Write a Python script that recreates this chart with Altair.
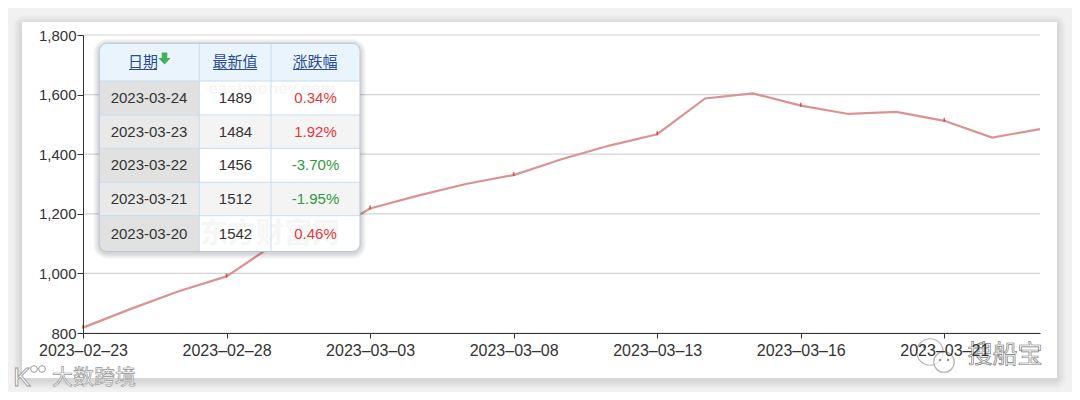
import altair as alt
import pandas as pd

# ---------------- data ----------------
dates = ["2023-02-23", "2023-02-24", "2023-02-27", "2023-02-28", "2023-03-01",
         "2023-03-02", "2023-03-03", "2023-03-06", "2023-03-07", "2023-03-08",
         "2023-03-09", "2023-03-10", "2023-03-13", "2023-03-14", "2023-03-15",
         "2023-03-16", "2023-03-17", "2023-03-20", "2023-03-21", "2023-03-22",
         "2023-03-23"]
values = [818, 881, 940, 990, 1098, 1125, 1218, 1261, 1300, 1330, 1383, 1429,
          1467, 1587, 1604, 1563, 1535, 1542, 1512, 1456, 1484]
label_dates = dates[::3]
y_ticks = [800, 1000, 1200, 1400, 1600, 1800]

tbl_headers = ["日期", "最新值", "涨跌幅"]
tbl_dates = ["2023-03-24", "2023-03-23", "2023-03-22", "2023-03-21", "2023-03-20"]
tbl_values = [1489, 1484, 1456, 1512, 1542]
tbl_changes = ["0.34%", "1.92%", "-3.70%", "-1.95%", "0.46%"]

# ---------------- layout (page pixels -> plot pixels) ----------------
OX, OY = 83, 35
W, H = 957, 298
PAD = {"left": 75, "top": 27, "right": 32, "bottom": 59}
FONT = "Liberation Sans"
CJK = "Noto Sans CJK SC"


def px(x):
    return x - OX


def py(y):
    return y - OY


def boxes(rows, **kw):
    df = pd.DataFrame([(px(a), py(b), px(c), py(d)) for a, b, c, d in rows],
                      columns=["x", "y", "x2", "y2"])
    return alt.Chart(df).mark_rect(**kw).encode(
        x=alt.X("x:Q", scale=None, axis=None), x2="x2:Q",
        y=alt.Y("y:Q", scale=None, axis=None), y2="y2:Q")


def segs(rows, **kw):
    df = pd.DataFrame([(px(a), py(b), px(c), py(d)) for a, b, c, d in rows],
                      columns=["x", "y", "x2", "y2"])
    return alt.Chart(df).mark_rule(**kw).encode(
        x=alt.X("x:Q", scale=None, axis=None), x2="x2:Q",
        y=alt.Y("y:Q", scale=None, axis=None), y2="y2:Q")


def texts(rows, **kw):
    df = pd.DataFrame([(px(a), py(b), t, c) for a, b, t, c in rows],
                      columns=["x", "y", "t", "c"])
    return alt.Chart(df).mark_text(**kw).encode(
        x=alt.X("x:Q", scale=None, axis=None),
        y=alt.Y("y:Q", scale=None, axis=None),
        text="t:N", color=alt.Color("c:N", scale=None))


def points(rows, **kw):
    df = pd.DataFrame([(px(a), py(b)) for a, b in rows], columns=["x", "y"])
    return alt.Chart(df).mark_point(**kw).encode(
        x=alt.X("x:Q", scale=None, axis=None),
        y=alt.Y("y:Q", scale=None, axis=None))


# ---------------- card background with soft shadow ----------------
CX0, CY0, CX1, CY1 = 22, 22, 1057, 378
layers = []
for i in range(9, 0, -1):
    layers.append(boxes([(CX0 - i, CY0 - i + 2, CX1 + i, CY1 + i + 2)],
                        color="#000000", opacity=0.011, cornerRadius=2 + i))
layers.append(boxes([(CX0, CY0, CX1, CY1)], color="#ffffff"))

# ---------------- main chart ----------------
main_df = pd.DataFrame({"date": dates, "value": values})
xscale = alt.Scale(type="point", domain=dates, padding=0)
yscale = alt.Scale(domain=[800, 1800], nice=False, zero=False)
xaxis = alt.Axis(values=label_dates,
                 labelExpr="replace(replace(datum.label, '-', '–'), '-', '–')",
                 labelAngle=0, labelFontSize=16, labelFont=FONT, labelColor="#333333",
                 tickSize=5, tickColor="#333333", domainColor="#333333",
                 labelPadding=4, title=None, grid=False, zindex=1)
yaxis = alt.Axis(values=y_ticks, format=",.0f", labelFontSize=15, labelFont=FONT,
                 labelColor="#333333", tickSize=6, tickColor="#333333",
                 domainColor="#333333", labelPadding=1, title=None, grid=False,
                 zindex=1)

grid = alt.Chart(pd.DataFrame({"v": y_ticks})).mark_rule(
    color="#d4d4d4", strokeWidth=1.2).encode(
    y=alt.Y("v:Q", scale=yscale, axis=yaxis))
line = alt.Chart(main_df).mark_line(color="#db9392", strokeWidth=2.2).encode(
    x=alt.X("date:O", scale=xscale, axis=xaxis),
    y=alt.Y("value:Q", scale=yscale, axis=yaxis))
marks = alt.Chart(main_df).transform_filter(
    alt.FieldOneOfPredicate(field="date", oneOf=label_dates)
).mark_tick(orient="vertical", color="#c0282d", size=4, thickness=1.6, yOffset=-1).encode(
    x=alt.X("date:O", scale=xscale, axis=xaxis),
    y=alt.Y("value:Q", scale=yscale, axis=yaxis))
layers.append(alt.layer(grid, line, marks))

# ---------------- table overlay ----------------
TX0, TY0, TX1, TY1 = 99.3, 43.3, 360, 251.5
C1, C2 = 199.3, 271
HB = 81
ROWS = [81, 115, 148.3, 182.3, 215.7, TY1]

for i in range(6, 0, -1):
    layers.append(boxes([(TX0 - i, TY0 - i + 1.5, TX1 + i, TY1 + i + 1.5)],
                        color="#000000", opacity=0.028, cornerRadius=8 + i))
layers.append(boxes([(TX0, TY0, TX1, TY1)], color="#ffffff", cornerRadius=8))
layers.append(boxes([(TX0, TY0, TX1, HB)], color="#e9f4fd",
                    cornerRadiusTopLeft=8, cornerRadiusTopRight=8))
layers.append(boxes([(TX0, HB, C1, TY1)], color="#e1e1e1", cornerRadiusBottomLeft=8))
layers.append(boxes([(C1, ROWS[1], TX1, ROWS[2]), (C1, ROWS[3], TX1, ROWS[4])],
                    color="#f4f4f4"))
layers.append(boxes([(TX0, ROWS[1], C1, ROWS[2]), (TX0, ROWS[3], C1, ROWS[4])],
                    color="#e9e9e9"))

# faint watermarks inside table
layers.append(texts([(272, 89, "eastmoney.com", "#000000")], font=FONT,
                    fontSize=17, fontWeight="bold", opacity=0.03))
layers.append(texts([(270, 235, "东方财富网", "#000000")], font=CJK,
                    fontSize=28, fontWeight="bold", opacity=0.03))

# cell borders
vlines = [(C1, TY0, C1, TY1), (C2, TY0, C2, TY1)]
hlines = [(TX0, r, TX1, r) for r in ROWS[:-1]]
layers.append(segs(vlines + hlines, color="#c8dcef", strokeWidth=1))
layers.append(boxes([(TX0, TY0, TX1, TY1)], fill="#ffffff", fillOpacity=0,
                    stroke="#b7c6d6", strokeWidth=1, cornerRadius=8))

# header
HEAD_Y = 62
head_x = [143, 235, 315]
layers.append(texts([(x, HEAD_Y, t, "#2a4c9c") for x, t in zip(head_x, tbl_headers)],
                    font=CJK, fontSize=15, baseline="middle"))
layers.append(segs([(129, 69.5, 157, 69.5), (213, 69.5, 257, 69.5),
                    (293, 69.5, 337, 69.5)], color="#2a4c9c", strokeWidth=1))
layers.append(points([(164.5, 58.5)],
                     shape="M-0.45,-1L0.45,-1L0.45,-0.1L1,-0.1L0,1L-1,-0.1L-0.45,-0.1Z",
                     size=150, filled=True, color="#45b05c", opacity=1))

# body
row_c = [(ROWS[i] + ROWS[i + 1]) / 2 for i in range(5)]
body = []
for yc, d, v, ch in zip(row_c, tbl_dates, tbl_values, tbl_changes):
    body.append((149, yc, d, "#333333"))
    body.append((235.5, yc, str(v), "#333333"))
    body.append((315.5, yc, ch, "#2e9b3c" if ch.startswith("-") else "#e8373b"))
layers.append(texts(body, font=FONT, fontSize=15, baseline="middle"))

# ---------------- outer watermarks ----------------
layers.append(texts([(94, 378, "大数跨境", "#ffffff")], font=CJK, fontSize=21,
                    baseline="middle", stroke="#9a9a9a", strokeWidth=0.7))
layers.append(texts([(22, 378, "K", "#ffffff")], font=FONT, fontSize=26,
                    baseline="middle", stroke="#9a9a9a", strokeWidth=0.9))
layers.append(points([(34, 369), (42, 369)], shape="circle", size=45, filled=True,
                     fill="#ffffff", stroke="#9a9a9a", strokeWidth=1, opacity=1))

layers.append(points([(930, 352)], shape="circle", size=700, filled=True,
                     fill="#ffffff", stroke="#a8a8a8", strokeWidth=1.2,
                     opacity=0.85, fillOpacity=0.8))
layers.append(points([(944, 362)], shape="circle", size=420, filled=True,
                     fill="#ffffff", stroke="#a8a8a8", strokeWidth=1.2,
                     opacity=0.85, fillOpacity=0.8))
layers.append(points([(924, 347), (934, 347), (940, 360), (948, 360)], shape="circle",
                     size=7, filled=True, color="#9a9a9a", opacity=1))
layers.append(texts([(1005, 355, "搜船宝", "#ffffff")], font=CJK, fontSize=25,
                    baseline="middle", stroke="#7a7a7a", strokeWidth=0.7))

chart = alt.layer(*layers).resolve_scale(x="independent", y="independent").properties(
    width=W, height=H, padding=PAD,
    autosize=alt.AutoSizeParams(type="none"),
    background="#f1f1f1",
).configure_view(strokeWidth=0)

chart.save("out.html", embed_options={"renderer": "svg", "actions": False})
